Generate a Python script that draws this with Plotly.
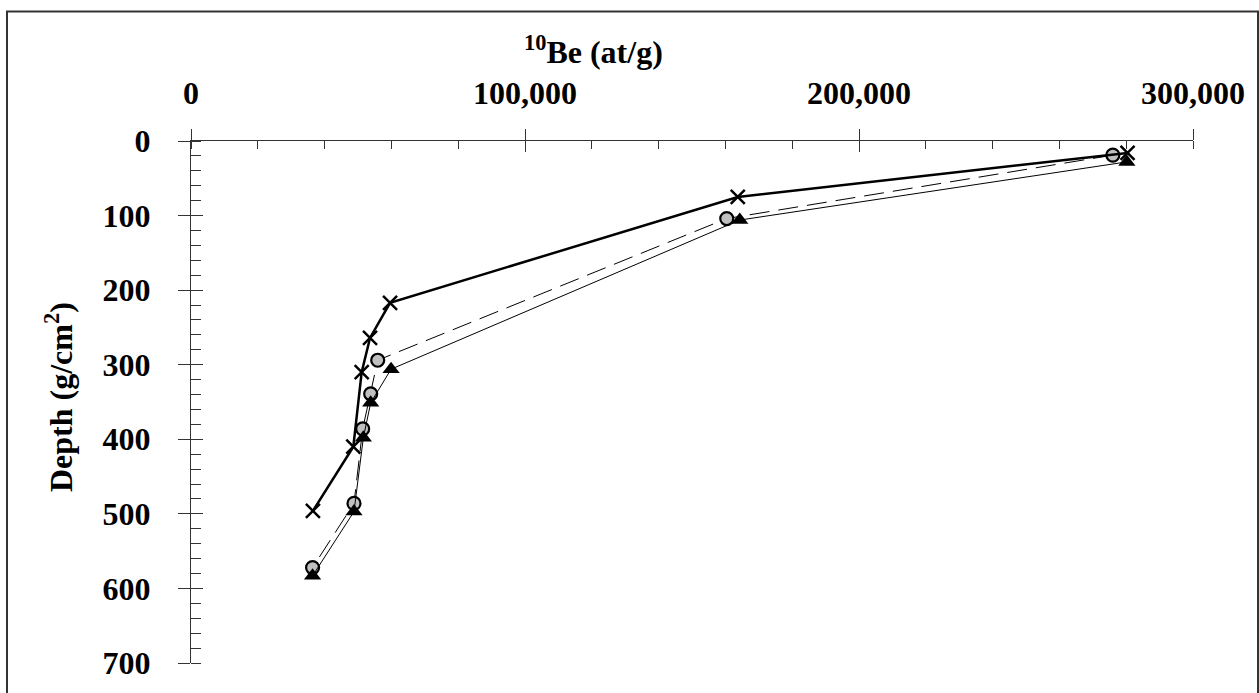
import plotly.graph_objects as go

# Data (10Be concentration in at/g, depth in g/cm2)
x_cross = [280400, 163700, 59600, 53600, 51100, 48600, 36500]
y_cross = [16, 75, 217, 264, 310, 410, 496]

x_circle = [276000, 160400, 55900, 53800, 51400, 48800, 36400]
y_circle = [19, 104, 294, 339, 386, 486, 572]

x_tri = [280200, 164300, 59900, 53800, 51600, 48800, 36400]
y_tri = [28, 106, 306, 351, 398, 497, 583]

x_ticks = [0, 100000, 200000, 300000]
x_ticklabels = ["0", "100,000", "200,000", "300,000"]
y_ticks = [0, 100, 200, 300, 400, 500, 600, 700]

W, H = 1259, 693
L, R, T, B = 191, 66, 141, 28
PW, PH = W - L - R, H - T - B

FONT = "Liberation Serif"
AX = "#333333"

fig = go.Figure()

fig.add_trace(go.Scatter(
    x=x_circle, y=y_circle, mode="lines+markers",
    line=dict(color="black", width=1, dash="20px,9px"),
    marker=dict(symbol="circle", size=13, color="#c0c0c0", line=dict(color="black", width=2.2)),
    showlegend=False))
fig.add_trace(go.Scatter(
    x=x_tri, y=y_tri, mode="lines+markers",
    line=dict(color="black", width=1),
    marker=dict(symbol="triangle-up", size=15, color="black", line=dict(color="black", width=0)),
    showlegend=False))
fig.add_trace(go.Scatter(
    x=x_cross, y=y_cross, mode="lines+markers",
    line=dict(color="black", width=2.5),
    marker=dict(symbol="x-thin", size=14, color="black", line=dict(color="black", width=2.5)),
    showlegend=False))

# invisible trace on overlay axes to make them render
fig.add_trace(go.Scatter(x=[None], y=[None], xaxis="x2", yaxis="y2", showlegend=False, hoverinfo="skip"))

tickfont = dict(family=FONT, size=32, color="black", weight="bold")

fig.update_layout(
    width=W, height=H,
    margin=dict(l=L, r=R, t=T, b=B),
    paper_bgcolor="white", plot_bgcolor="white",
    xaxis=dict(
        side="top", range=[0, 300000], tickvals=x_ticks, ticktext=x_ticklabels,
        showgrid=False, zeroline=False, showline=True, linecolor=AX, linewidth=1.2,
        ticks="outside", ticklen=11, tickwidth=1.2, tickcolor=AX,
        minor=dict(dtick=20000, ticks="inside", ticklen=8, tickwidth=1.2, tickcolor=AX, showgrid=False),
        tickfont=tickfont, ticklabelstandoff=12,
    ),
    yaxis=dict(
        range=[700, 0], tickvals=y_ticks,
        showgrid=False, zeroline=False, showline=True, linecolor=AX, linewidth=1.2,
        ticks="outside", ticklen=12, tickwidth=1.2, tickcolor=AX,
        minor=dict(dtick=20, ticks="inside", ticklen=10, tickwidth=1.2, tickcolor=AX, showgrid=False),
        tickfont=tickfont, ticklabelstandoff=21,
    ),
    xaxis2=dict(
        overlaying="x", matches="x", side="top", anchor="y2", range=[0, 300000],
        tickvals=x_ticks, showticklabels=False, showgrid=False, zeroline=False, showline=False,
        ticks="inside", ticklen=11, tickwidth=1.2, tickcolor=AX,
    ),
    yaxis2=dict(
        overlaying="y", matches="y", side="left", anchor="x2", range=[700, 0],
        tickvals=y_ticks, showticklabels=False, showgrid=False, zeroline=False, showline=False,
        ticks="inside", ticklen=12, tickwidth=1.2, tickcolor=AX,
    ),
)

def px_x(p):
    return (p - L) / PW

def px_y(p):
    return 1 - (p - T) / PH

fig.add_annotation(
    text="<sup>10</sup>Be (at/g)", xref="paper", yref="paper",
    x=px_x(593), y=px_y(50), showarrow=False, xanchor="center", yanchor="middle",
    font=dict(family=FONT, size=32, color="black", weight="bold"))

fig.add_annotation(
    text="Depth (g/cm<sup>2</sup>)", xref="paper", yref="paper",
    x=px_x(59), y=px_y(398), showarrow=False, xanchor="center", yanchor="middle",
    textangle=-90, font=dict(family=FONT, size=32, color="black", weight="bold"))

# outer frame
fig.add_shape(type="rect", xref="paper", yref="paper",
              x0=px_x(7), x1=px_x(1258), y0=px_y(720), y1=px_y(11),
              line=dict(color=AX, width=2), fillcolor="rgba(0,0,0,0)", layer="below")

fig.write_html("out.html", config={"displayModeBar": False},
               post_script="document.body.style.margin='0px';document.body.style.overflow='hidden';")
